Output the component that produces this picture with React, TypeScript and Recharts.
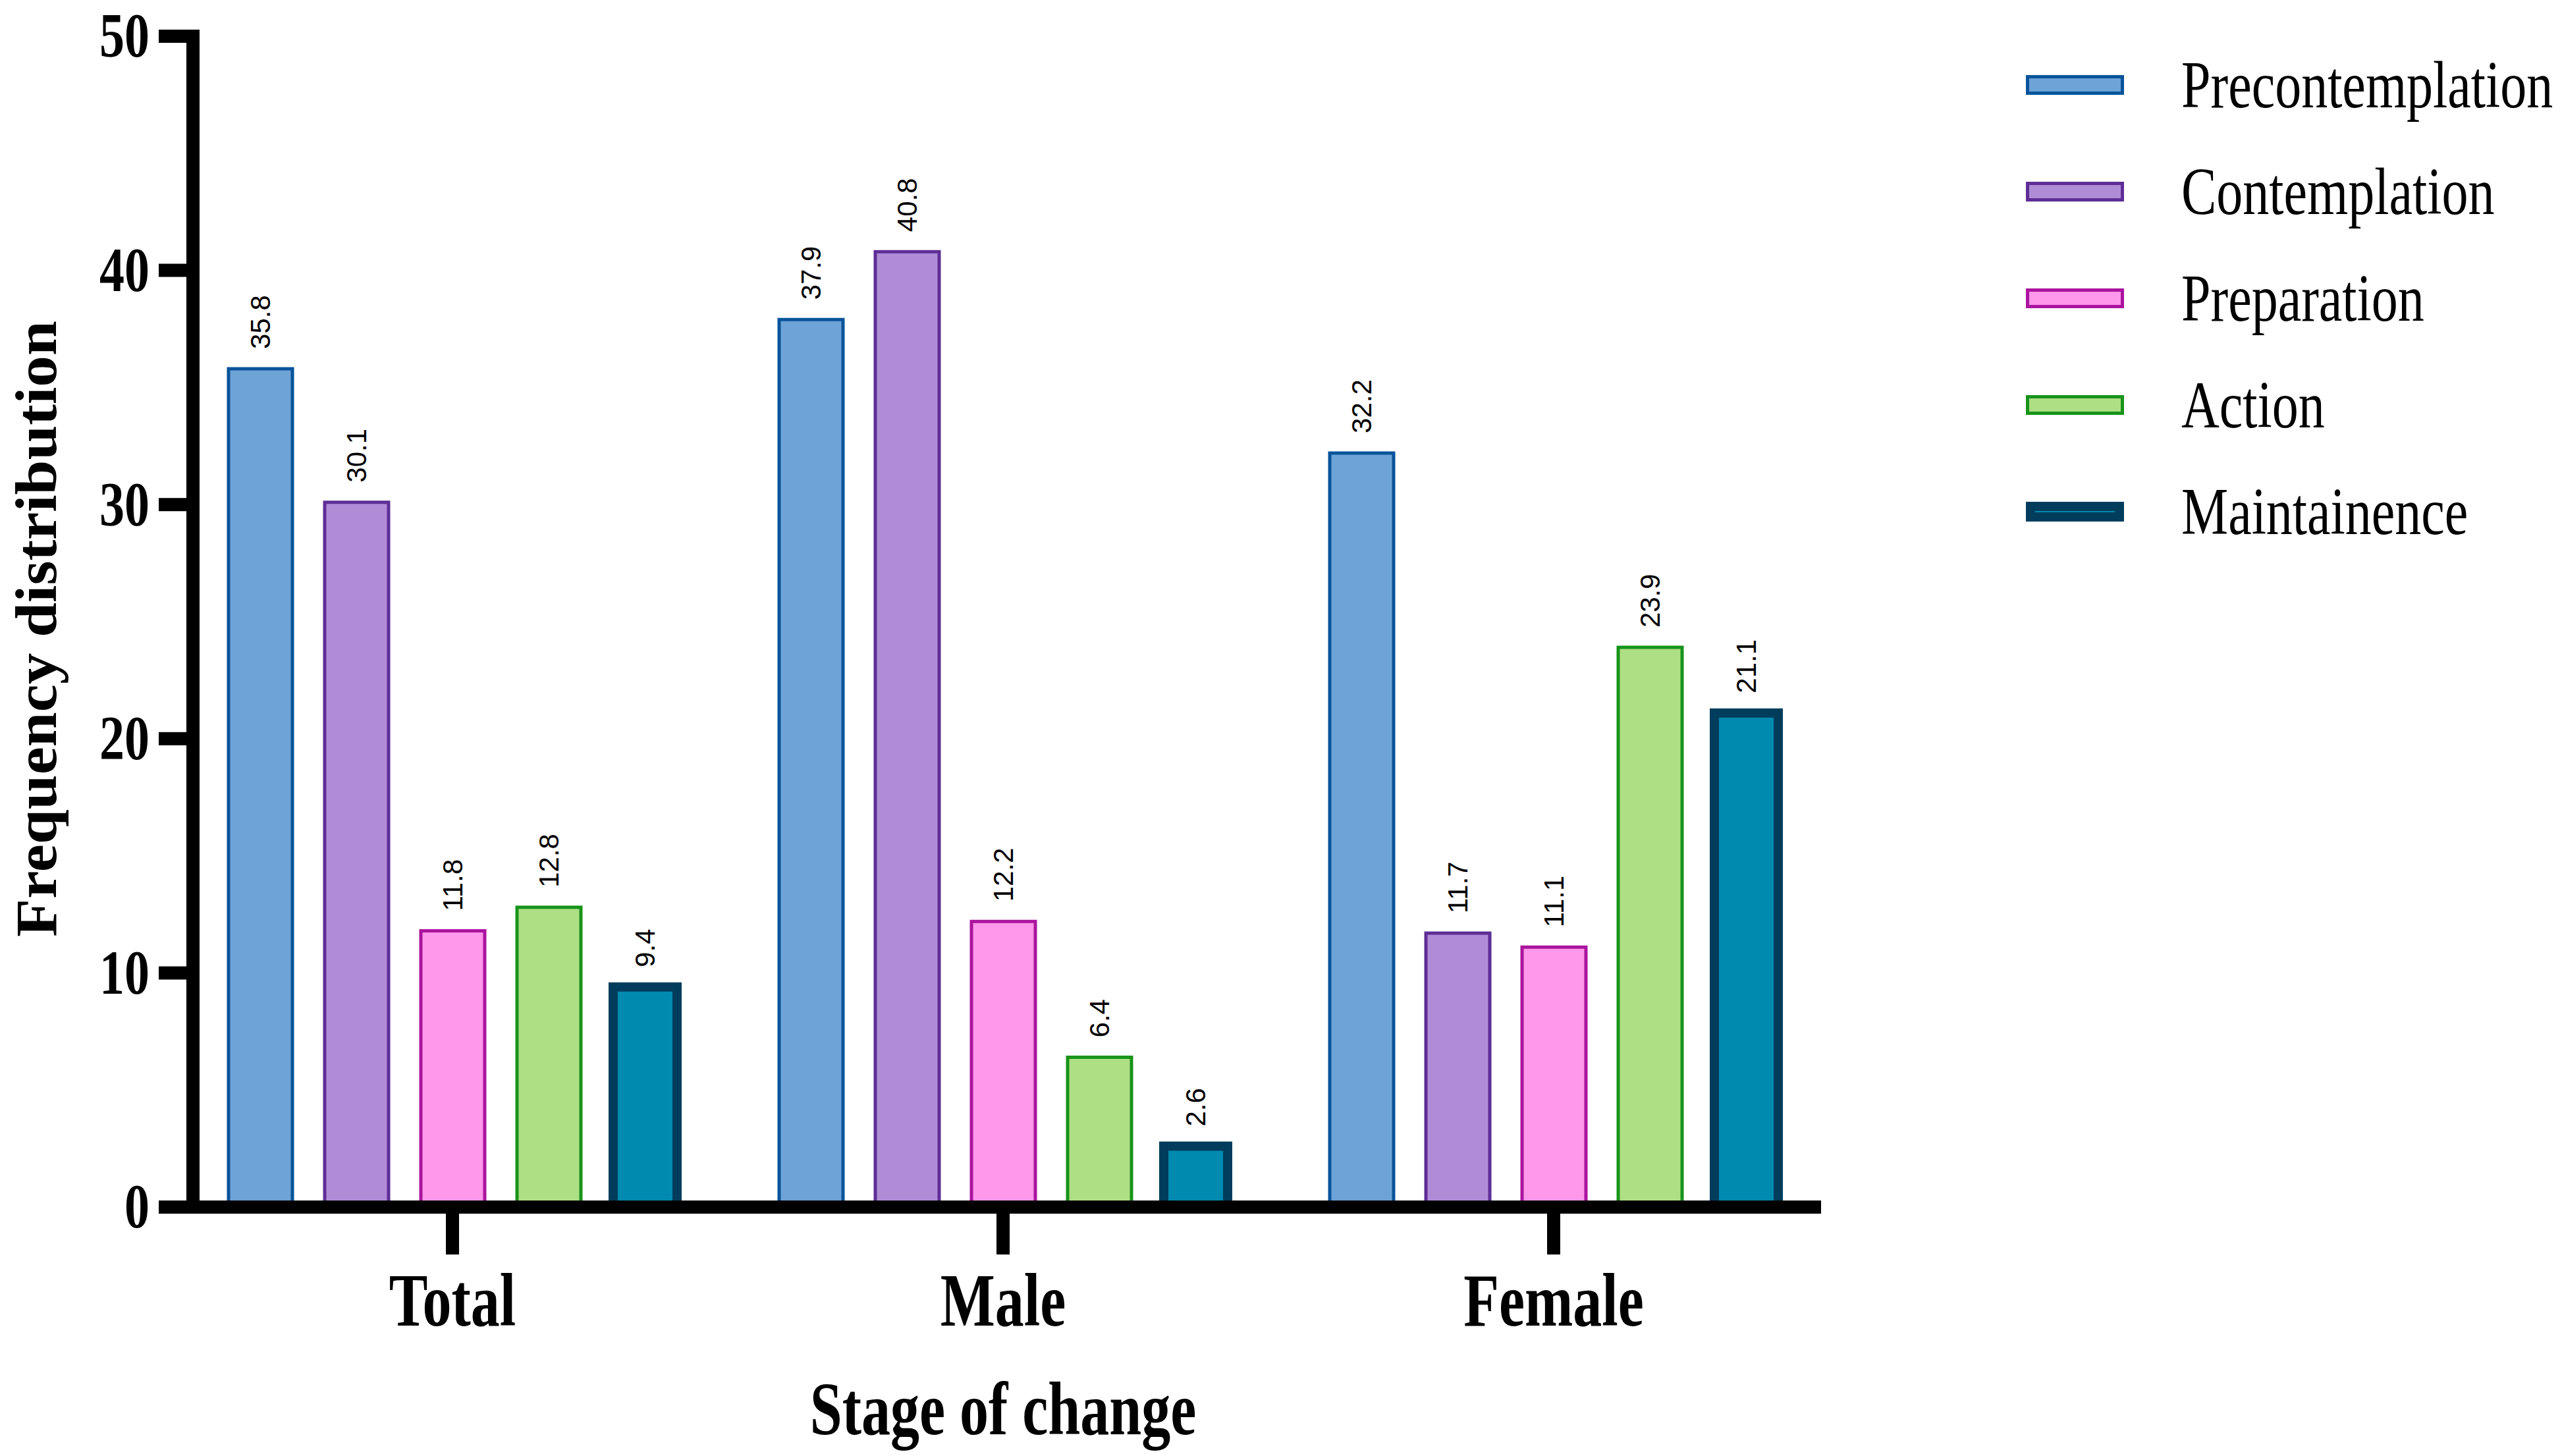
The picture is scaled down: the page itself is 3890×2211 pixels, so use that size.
import React from "react";
import { BarChart, Bar, XAxis, YAxis, LabelList } from "recharts";

const groups = ["Total", "Male", "Female"];
const stages = ["Precontemplation", "Contemplation", "Preparation", "Action", "Maintainence"];
const precontemplation = [35.8, 37.9, 32.2];
const contemplation = [30.1, 40.8, 11.7];
const preparation = [11.8, 12.2, 11.1];
const action = [12.8, 6.4, 23.9];
const maintainence = [9.4, 2.6, 21.1];
const yTicks = [0, 10, 20, 30, 40, 50];

const seriesValues = [precontemplation, contemplation, preparation, action, maintainence];
const fills = ["#6EA3D7", "#B08CD7", "#FF97EB", "#AEDF84", "#008AB0"];
const strokes = ["#08549A", "#5E2E96", "#AA149E", "#18931A", "#003D5C"];
const strokeWidths = [5, 5, 5, 5, 14];

const keys = ["s0", "s1", "s2", "s3", "s4"];
const rows = groups.map((g, i) => {
  const row: Record<string, any> = { group: g };
  seriesValues.forEach((vals, k) => (row[keys[k]] = vals[i]));
  return row;
});

const serif = "'Times New Roman', 'Liberation Serif', serif";
const sans = "Arial, 'Liberation Sans', sans-serif";

const CatTick = (props: any) => {
  const { x, y, payload } = props;
  return (
    <text
      transform={`translate(${x},${y + 67}) scale(1,1.3)`}
      textAnchor="middle"
      dominantBaseline="central"
      fontFamily={serif}
      fontWeight="bold"
      fontSize={88}
      fill="#000"
    >
      {payload.value}
    </text>
  );
};

const ValTick = (props: any) => {
  const { x, y, payload } = props;
  return (
    <text
      transform={`translate(${x},${y}) scale(1,1.24)`}
      textAnchor="end"
      dominantBaseline="central"
      fontFamily={serif}
      fontWeight="bold"
      fontSize={76}
      fill="#000"
    >
      {payload.value}
    </text>
  );
};

const ValueLabel = (props: any) => {
  const { x, y, width, value } = props;
  return (
    <text
      transform={`translate(${x + width / 2},${y - 30}) rotate(-90)`}
      textAnchor="start"
      dominantBaseline="central"
      fontFamily={sans}
      fontSize={42}
      fill="#000"
    >
      {value}
    </text>
  );
};

const Legend = () => (
  <svg
    width={820}
    height={900}
    style={{ position: "absolute", left: 3060, top: 0 }}
  >
    {stages.map((s, k) => {
      const cy = 129 + k * 162;
      const sw = strokeWidths[k];
      return (
        <g key={s}>
          <rect
            x={16 + sw / 2}
            y={cy - 15 + sw / 2}
            width={149 - sw}
            height={30 - sw}
            fill={fills[k]}
            stroke={strokes[k]}
            strokeWidth={sw}
          />
          <text
            transform={`translate(252,${cy}) scale(1,1.27)`}
            dominantBaseline="central"
            fontFamily={serif}
            fontSize={80}
            fill="#000"
          >
            {s}
          </text>
        </g>
      );
    })}
  </svg>
);

export default function App() {
  return (
    <div style={{ position: "relative", width: 3890, height: 2211, background: "#fff" }}>
      <style>{`body{margin:0}`}</style>
      <BarChart
        width={3890}
        height={2211}
        data={rows}
        margin={{ top: 55, right: 1135, bottom: 78, left: 93 }}
        barSize={97}
        barGap={49}
      >
        {keys.map((k, i) => (
          <Bar
            key={k}
            dataKey={k}
            name={stages[i]}
            fill={fills[i]}
            stroke={strokes[i]}
            strokeWidth={strokeWidths[i]}
            isAnimationActive={false}
          >
            <LabelList dataKey={k} content={<ValueLabel />} />
          </Bar>
        ))}
        <XAxis
          dataKey="group"
          height={300}
          interval={0}
          padding={{ left: -24, right: -22 }}
          tickSize={72}
          axisLine={{ stroke: "#000", strokeWidth: 20, strokeLinecap: "square" }}
          tickLine={{ stroke: "#000", strokeWidth: 20 }}
          tick={<CatTick />}
          label={{
            content: () => (
              <text
                transform={`translate(1523,2139) scale(1,1.3)`}
                textAnchor="middle"
                dominantBaseline="central"
                fontFamily={serif}
                fontWeight="bold"
                fontSize={88}
                fill="#000"
              >
                Stage of change
              </text>
            ),
          }}
        />
        <YAxis
          width={200}
          domain={[0, 50]}
          ticks={yTicks}
          interval={0}
          tickSize={52}
          tickMargin={14}
          axisLine={{ stroke: "#000", strokeWidth: 20, strokeLinecap: "square" }}
          tickLine={{ stroke: "#000", strokeWidth: 20 }}
          tick={<ValTick />}
          label={{
            content: () => (
              <text
                transform={`translate(55,955) rotate(-90) scale(1.08,1)`}
                textAnchor="middle"
                dominantBaseline="central"
                fontFamily={serif}
                fontWeight="bold"
                fontSize={88}
                fill="#000"
              >
                Frequency distribution
              </text>
            ),
          }}
        />
      </BarChart>
      <Legend />
    </div>
  );
}
